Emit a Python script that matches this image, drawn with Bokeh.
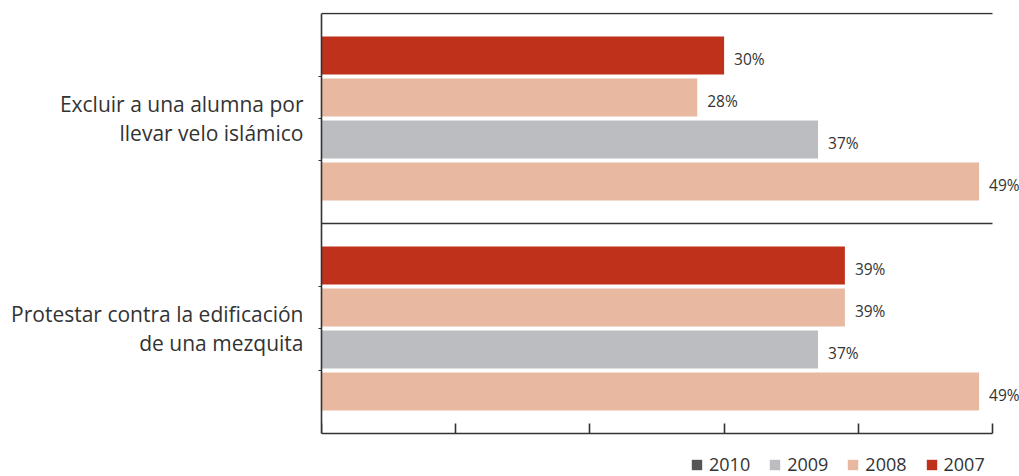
from bokeh.plotting import figure
from bokeh.models import (LabelSet, ColumnDataSource, FixedTicker,
                          Legend, LegendItem, CustomJSTickFormatter)
from bokeh.core.properties import value
from bokeh.embed import file_html
from bokeh.resources import INLINE

# ---- data ----
categories = ["Excluir a una alumna por\nllevar velo islámico",
              "Protestar contra la edificación\nde una mezquita"]
series = ["2007", "2008", "2009", "2010"]          # top to bottom inside each group
v2007 = [30, 39]
v2008 = [28, 39]
v2009 = [37, 37]
v2010 = [49, 49]
bar_colors = ["#c0311c", "#e9b8a0", "#bcbdc1", "#e9b8a0"]
legend_labels = ["2010", "2009", "2008", "2007"]
legend_colors = ["#555555", "#bcbdc1", "#e9b8a0", "#c0311c"]
x_ticks = [0, 10, 20, 30, 40, 50]

values = [v2007, v2008, v2009, v2010]
FONT = "Open Sans"
TXT = "#333333"
LINE = "#333333"
NAN = float("nan")

n_s = len(series)
slot = n_s + 1
n_g = len(categories)
y_max = slot * n_g
x_axis_max = x_ticks[-1]

ys, xs, cols, labs = [], [], [], []
gap_ticks = []
overrides = {}
seps = []
for g in range(n_g):
    top = y_max - slot * g
    seps.append(top)
    for i in range(n_s):
        ys.append(top - 1 - i)
        xs.append(values[i][g])
        cols.append(bar_colors[i])
        labs.append(f"{values[i][g]}%")
        if i < n_s - 1:
            gap_ticks.append(top - 1.5 - i)
    overrides[top - slot / 2] = categories[g]

src = ColumnDataSource(dict(y=ys, x=xs, color=cols, label=labs))

# frame: x 321..1019 px, y 12..476 px ; 42 px per bar slot, 13.42 px per percent
PX = 42.0
p = figure(width=1019, height=476,
           x_range=(0, x_axis_max * 698 / 671),
           y_range=(-43 / PX, y_max + 1 / PX),
           output_backend="svg", toolbar_location=None,
           min_border_left=321, min_border_right=0,
           min_border_top=12, min_border_bottom=0)
p.outline_line_color = None
p.xgrid.visible = False
p.ygrid.visible = False

p.hbar(y="y", right="x", left=0, height=0.905, color="color", line_color=None, source=src)

# top line and group separator
p.segment(x0=0, x1=x_axis_max, y0=seps, y1=seps, line_color=LINE, line_width=1.6)

p.add_layout(LabelSet(x="x", y="y", text="label", source=src, x_offset=10, y_offset=-3,
                      text_baseline="middle", text_font=value(FONT),
                      text_font_size="15.5px", text_color=TXT))

empty = CustomJSTickFormatter(code="return ''")
xa = p.xaxis[0]
xa.fixed_location = 0
xa.ticker = FixedTicker(ticks=x_ticks)
xa.bounds = (0, x_axis_max)
xa.formatter = empty
xa.major_label_text_font_size = "0px"
xa.major_label_standoff = 0
xa.major_tick_in = 10
xa.major_tick_out = 0
xa.minor_tick_line_color = None
xa.axis_line_color = LINE
xa.axis_line_width = 1.6
xa.major_tick_line_color = LINE
xa.major_tick_line_width = 1.6

ya = p.yaxis[0]
ya.ticker = FixedTicker(ticks=gap_ticks)
ya.bounds = (0, y_max)
ya.formatter = empty
ya.major_label_overrides = overrides
ya.major_label_standoff = 15
ya.major_label_text_font = FONT
ya.major_label_text_font_size = "21px"
ya.major_label_text_color = TXT
ya.major_label_text_line_height = 1.05
ya.major_tick_in = 0
ya.major_tick_out = 3
ya.minor_tick_line_color = None
ya.axis_line_color = LINE
ya.axis_line_width = 1.6
ya.major_tick_line_color = LINE

# legend below the bars, inside the (extended) frame; swatch-only renderers
items = []
for lab, col in zip(legend_labels, legend_colors):
    r = p.quad(left=[NAN], right=[NAN], top=[NAN], bottom=[NAN],
               fill_color=col, line_color=None)
    items.append(LegendItem(label=lab, renderers=[r]))
leg = Legend(items=items, orientation="horizontal", location=(369, 0),
             glyph_width=13, glyph_height=13, label_standoff=6, spacing=18,
             padding=0, margin=0, border_line_color=None, background_fill_alpha=0,
             label_text_font=FONT, label_text_font_size="18px", label_text_color=TXT,
             label_height=18)
p.add_layout(leg)

open("out.html", "w").write(file_html(p, INLINE))
